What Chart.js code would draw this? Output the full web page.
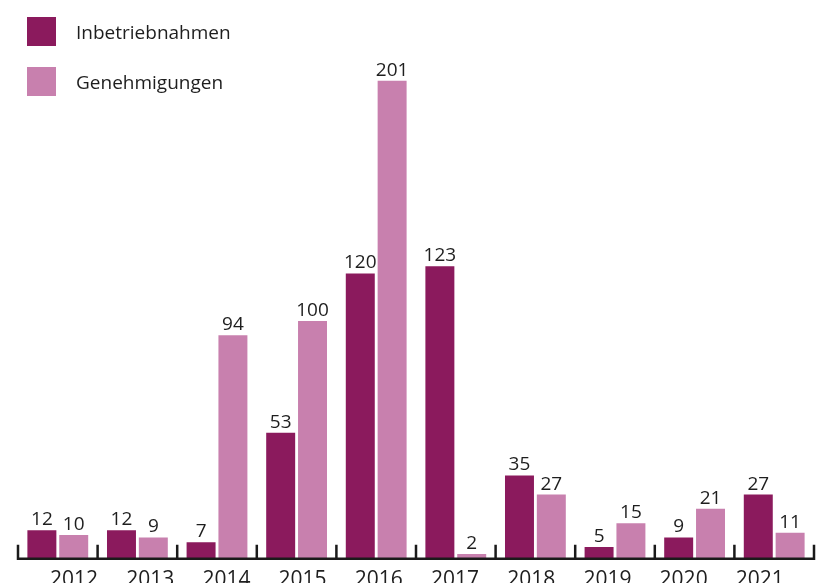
<!DOCTYPE html>
<html>
<head>
<meta charset="utf-8">
<script src="https://cdn.jsdelivr.net/npm/chart.js@4"></script>
<style>
	html, body { margin: 0; padding: 0; background: #fff; overflow: hidden; }
	#wrap { position: relative; width: 829px; height: 602px; }
	#legend { position: absolute; left: 0; top: 0; }
	.legend-item {
		position: absolute; left: 27px; display: flex; align-items: center;
		font: 19px "Open Sans", sans-serif; color: #1e1e1e; white-space: nowrap;
	}
	.legend-box { width: 29px; height: 29px; margin-right: 20px; }
</style>
</head>
<body>
<div id="wrap">
	<canvas id="chart" width="829" height="602"></canvas>
	<div id="legend"></div>
</div>
<script>
	'use strict';

	const years = ['2012', '2013', '2014', '2015', '2016', '2017', '2018', '2019', '2020', '2021'];
	const inbetriebnahmen = [12, 12, 7, 53, 120, 123, 35, 5, 9, 27];
	const genehmigungen = [10, 9, 94, 100, 201, 2, 27, 15, 21, 11];
	const seriesNames = ['Inbetriebnahmen', 'Genehmigungen'];

	const colors = ['#8b1a5d', '#c880ae'];

	/**
	 * Legend (left, stacked)
	 */
	const legend = document.getElementById('legend');
	seriesNames.forEach(function(name, i) {
		const item = document.createElement('div');
		item.className = 'legend-item';
		item.style.top = (17 + i * 50) + 'px';
		item.innerHTML = '<div class="legend-box" style="background:' + colors[i] + '"></div><span>' + name + '</span>';
		legend.appendChild(item);
	});

	/**
	 * Baseline with upward tick marks at category borders
	 */
	const axisTicks = {
		id: 'axisTicks',
		afterDatasetsDraw(chart) {
			const x = chart.scales.x;
			const bottom = chart.chartArea.bottom;
			const n = years.length;
			const step = (x.right - x.left) / n;
			const ctx = chart.ctx;
			ctx.save();
			ctx.strokeStyle = '#1a1a1a';
			ctx.lineWidth = 2.5;
			ctx.beginPath();
			ctx.moveTo(x.left, bottom);
			ctx.lineTo(x.right, bottom);
			for (let i = 0; i <= n; i++) {
				const px = x.left + i * step;
				ctx.moveTo(px, bottom + 1.2);
				ctx.lineTo(px, bottom - 14);
			}
			ctx.stroke();
			ctx.restore();
		}
	};

	/**
	 * Value labels above bars
	 */
	const valueLabels = {
		id: 'valueLabels',
		afterDatasetsDraw(chart) {
			const ctx = chart.ctx;
			ctx.save();
			ctx.font = '19px "Open Sans", sans-serif';
			ctx.fillStyle = '#1e1e1e';
			ctx.textAlign = 'center';
			ctx.textBaseline = 'bottom';
			chart.data.datasets.forEach(function(ds, di) {
				chart.getDatasetMeta(di).data.forEach(function(bar, i) {
					ctx.fillText(String(ds.data[i]), bar.x, bar.y - 1);
				});
			});
			ctx.restore();
		}
	};

	new Chart(document.getElementById('chart'), {
		type: 'bar',
		data: {
			labels: years,
			datasets: [
				{
					label: seriesNames[0],
					data: inbetriebnahmen,
					backgroundColor: colors[0],
					categoryPercentage: 0.8,
					barPercentage: 0.91
				},
				{
					label: seriesNames[1],
					data: genehmigungen,
					backgroundColor: colors[1],
					categoryPercentage: 0.8,
					barPercentage: 0.91
				}
			]
		},
		options: {
			responsive: false,
			animation: false,
			layout: {
				padding: { left: 18, right: 15, top: 0, bottom: 0 }
			},
			plugins: {
				legend: { display: false },
				tooltip: { enabled: false }
			},
			scales: {
				x: {
					weight: 0,
					grid: { display: false, drawTicks: false },
					border: { display: false },
					ticks: { display: false }
				},
				// year labels sit on their own linear axis (they drift slightly vs. the bars)
				xl: {
					type: 'linear',
					position: 'bottom',
					weight: 1,
					offset: false,
					bounds: 'data',
					min: -0.735,
					max: 9.711,
					grid: { display: false, drawTicks: false, offset: false },
					border: { display: false },
					afterBuildTicks: function(scale) {
						scale.ticks = years.map(function(y, i) { return { value: i }; });
					},
					ticks: {
						autoSkip: false,
						maxRotation: 0,
						padding: 9,
						color: '#1e1e1e',
						font: { family: 'Open Sans', size: 21 },
						callback: function(v) {
							return years[Math.round(v)] || '';
						}
					}
				},
				y: {
					display: false,
					min: 0,
					max: 235
				}
			}
		},
		plugins: [axisTicks, valueLabels]
	});
</script>
</body>
</html>
